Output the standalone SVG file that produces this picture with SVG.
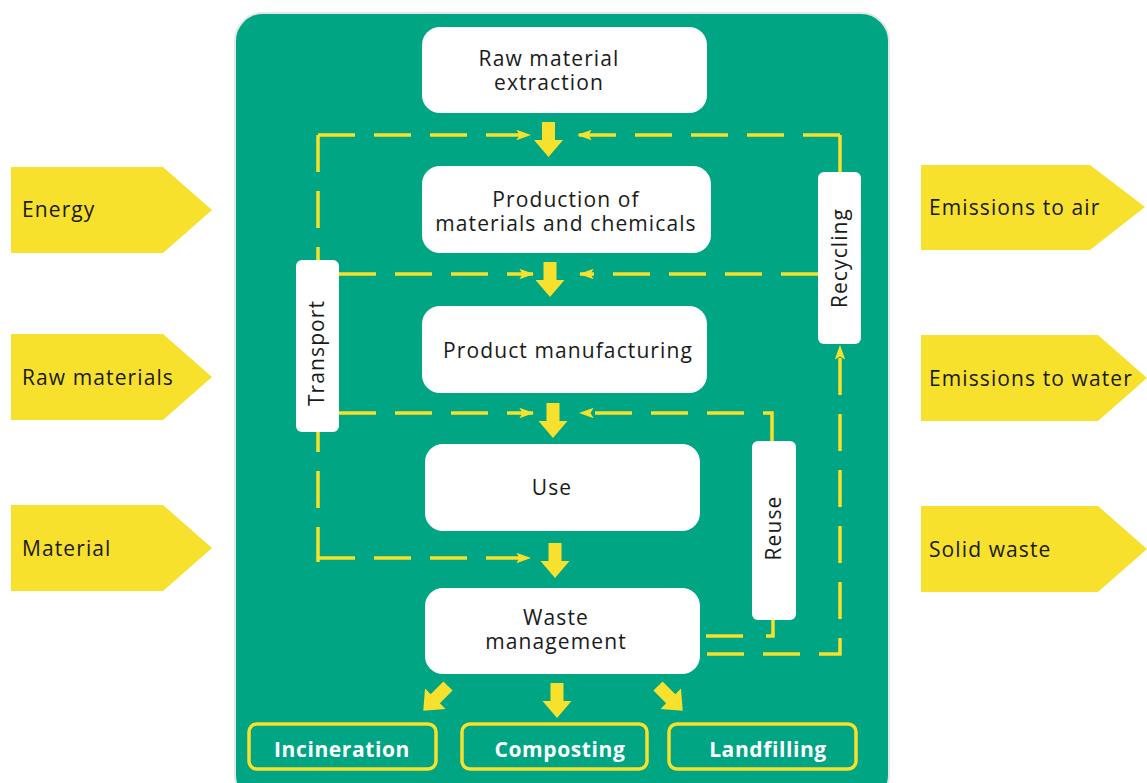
<svg xmlns="http://www.w3.org/2000/svg" width="1147" height="783" viewBox="0 0 1147 783">
<defs>
<style>
.t{font-family:"Open Sans","Liberation Sans",sans-serif;font-size:21px;letter-spacing:1.1px;fill:#1a1a1a;text-anchor:middle}
.tl{font-family:"Open Sans","Liberation Sans",sans-serif;font-size:21px;letter-spacing:1.1px;fill:#1a1a1a}
.tb{font-family:"Open Sans","Liberation Sans",sans-serif;font-size:21px;letter-spacing:0.6px;font-weight:bold;fill:#fff;text-anchor:middle}
.box{fill:#fff}
.side{fill:#f7e12c}
.out{fill:none;stroke:#f7e12c;stroke-width:3.5}
.big{fill:#f7e12c}
.d{fill:none;stroke:#f7e12c;stroke-width:3.5;stroke-dasharray:37 19}
.s{fill:none;stroke:#f7e12c;stroke-width:3.5}
</style>
<marker id="ah" viewBox="0 0 14 10" refX="13" refY="5" markerWidth="4.2" markerHeight="3" orient="auto" markerUnits="strokeWidth">
<path d="M0,0 L14,5 L0,10 L3,5 Z" fill="#f7e12c"/>
</marker>
<path id="bigarrow" d="M-6.5,0 H6.5 V18 H14.5 L0,35 L-14.5,18 H-6.5 Z"/>
</defs>
<rect x="235" y="13" width="654" height="790" rx="28" fill="#00a584" stroke="#e6e6e6" stroke-width="2"/>
<g id="in-energy"><path class="side" d="M11,167 H163 L212,210 L163,253 H11 Z"/><text class="tl" x="22" y="217">Energy</text></g>
<g id="in-raw"><path class="side" d="M11,334 H163 L212,377 L163,420 H11 Z"/><text class="tl" x="22" y="385">Raw materials</text></g>
<g id="in-material"><path class="side" d="M11,505 H163 L212,548 L163,591 H11 Z"/><text class="tl" x="22" y="556">Material</text></g>
<g id="out-air"><path class="side" d="M921,165 H1090 L1145,207 L1090,250 H921 Z"/><text class="tl" x="929" y="215">Emissions to air</text></g>
<g id="out-water"><path class="side" d="M921,335 H1098 L1147,378 L1098,421 H921 Z"/><text class="tl" x="929" y="386">Emissions to water</text></g>
<g id="out-solid"><path class="side" d="M921,506 H1098 L1147,549 L1098,592 H921 Z"/><text class="tl" x="929" y="557">Solid waste</text></g>
<g id="connectors">
<path class="d" d="M318,135 H530" marker-end="url(#ah)"/>
<path class="d" d="M840,135 H578" marker-end="url(#ah)"/>
<path class="d" d="M318,135 V562"/>
<path class="d" d="M840,135 V172"/>
<path class="d" d="M339,274 H533" marker-end="url(#ah)"/>
<path class="d" d="M818,274 H580" marker-end="url(#ah)"/>
<path class="d" d="M339,413 H533" marker-end="url(#ah)"/>
<path class="d" d="M772,441 V413 H580" marker-end="url(#ah)"/>
<path class="d" d="M318,558 H530" marker-end="url(#ah)"/>
<path class="d" d="M706,636 H747"/>
<path class="s" d="M766,636 H773 V620"/>
<path class="d" d="M707,654 H840 V346" marker-end="url(#ah)"/>
<use href="#bigarrow" class="big" x="548.5" y="122"/>
<use href="#bigarrow" class="big" x="550" y="262"/>
<use href="#bigarrow" class="big" x="553" y="403"/>
<use href="#bigarrow" class="big" x="555" y="543"/>
<use href="#bigarrow" class="big" x="557" y="683"/>
<use href="#bigarrow" class="big" transform="translate(448,686) rotate(45)"/>
<use href="#bigarrow" class="big" transform="translate(658,686) rotate(-45)"/>
</g>
<g id="n-raw"><rect class="box" x="422" y="27" width="285" height="86" rx="18"/><text class="t" x="549" y="66">Raw material</text><text class="t" x="549" y="90">extraction</text></g>
<g id="n-production"><rect class="box" x="422" y="166" width="289" height="87" rx="18"/><text class="t" x="566" y="207">Production of</text><text class="t" x="566" y="231">materials and chemicals</text></g>
<g id="n-manufacturing"><rect class="box" x="422" y="306" width="285" height="87" rx="18"/><text class="t" x="568" y="358">Product manufacturing</text></g>
<g id="n-use"><rect class="box" x="425" y="444" width="275" height="87" rx="18"/><text class="t" x="552" y="495">Use</text></g>
<g id="n-waste"><rect class="box" x="425" y="588" width="275" height="86" rx="18"/><text class="t" x="556" y="625">Waste</text><text class="t" x="556" y="649">management</text></g>
<g id="n-transport"><rect class="box" x="296" y="260" width="43" height="172" rx="6"/><text class="t" transform="translate(324,353) rotate(-90)">Transport</text></g>
<g id="n-recycling"><rect class="box" x="818" y="172" width="43" height="172" rx="6"/><text class="t" transform="translate(847,258) rotate(-90)">Recycling</text></g>
<g id="n-reuse"><rect class="box" x="752" y="441" width="44" height="179" rx="6"/><text class="t" transform="translate(781,528) rotate(-90)">Reuse</text></g>
<g id="n-incineration"><rect class="out" x="249" y="724" width="187" height="45" rx="8"/><text class="tb" x="342" y="757">Incineration</text></g>
<g id="n-composting"><rect class="out" x="462" y="724" width="185" height="45" rx="8"/><text class="tb" x="560" y="757">Composting</text></g>
<g id="n-landfilling"><rect class="out" x="669" y="724" width="187" height="45" rx="8"/><text class="tb" x="768" y="757">Landfilling</text></g>
</svg>
